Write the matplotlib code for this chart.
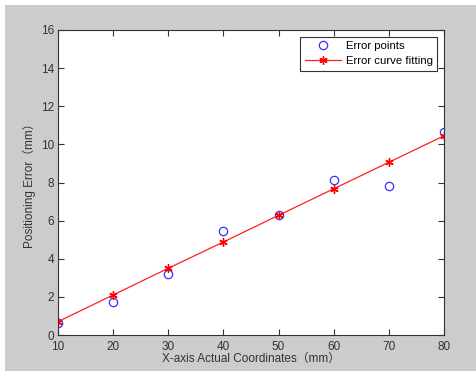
import matplotlib
matplotlib.use("Agg")
import matplotlib.pyplot as plt
from matplotlib.patches import Rectangle

x_coords = [10, 20, 30, 40, 50, 60, 70, 80]
error_points = [0.62, 1.75, 3.2, 5.45, 6.3, 8.12, 7.8, 10.65]
fit_values = [0.70, 2.10, 3.50, 4.88, 6.28, 7.67, 9.06, 10.45]
x_ticks = [10, 20, 30, 40, 50, 60, 70, 80]
y_ticks = [0, 2, 4, 6, 8, 10, 12, 14, 16]

plt.rcParams['font.family'] = ['Liberation Sans', 'Noto Sans CJK SC', 'DejaVu Sans']

fig = plt.figure(figsize=(4.77, 3.71), dpi=100, facecolor='#cccccc')
# thin white strip along the top and left edge, as in the screenshot
fig.patches.append(Rectangle((0, 1 - 5 / 371), 1, 5 / 371, transform=fig.transFigure,
                             facecolor='white', edgecolor='none', zorder=-1))
fig.patches.append(Rectangle((0, 0), 5 / 477, 1, transform=fig.transFigure,
                             facecolor='white', edgecolor='none', zorder=-1))

ax = fig.add_axes([58 / 477, 1 - 335 / 371, (444 - 58) / 477, (335 - 30) / 371])
ax.set_facecolor('white')

# MATLAB-style '*' marker: six-armed asterisk
asterisk = (6, 2, 0)

ax.plot(x_coords, error_points, 'o', markerfacecolor='none', markeredgecolor='#3333ff',
        markersize=6, markeredgewidth=0.9, label='Error points')
ax.plot(x_coords, fit_values, '-', color='#ff2020', linewidth=0.9, marker=asterisk,
        markersize=6, markeredgewidth=1.0, markeredgecolor='#ff0000',
        label='Error curve fitting')

ax.set_xlim(10, 80)
ax.set_ylim(0, 16)
ax.set_xticks(x_ticks)
ax.set_yticks(y_ticks)
ax.tick_params(direction='in', top=True, right=True, labelsize=8.5, length=4,
               colors='#333333')
ax.tick_params(axis='x', pad=4)
ax.tick_params(axis='y', pad=3)
for s in ax.spines.values():
    s.set_color('#333333')
    s.set_linewidth(0.8)

ax.set_xlabel('X-axis Actual Coordinates（mm）', fontsize=8.5, color='#333333', labelpad=0)
ax.set_ylabel('Positioning Error（mm）', fontsize=8.5, color='#333333', labelpad=3)

leg = ax.legend(loc='upper right', fontsize=8.2, fancybox=False, framealpha=1,
                edgecolor='#333333', borderaxespad=0.6, handlelength=3.2,
                handletextpad=0.4, borderpad=0.4, labelspacing=0.4)
leg.get_frame().set_linewidth(0.8)

fig.savefig('out.png', dpi=100, facecolor=fig.get_facecolor())
